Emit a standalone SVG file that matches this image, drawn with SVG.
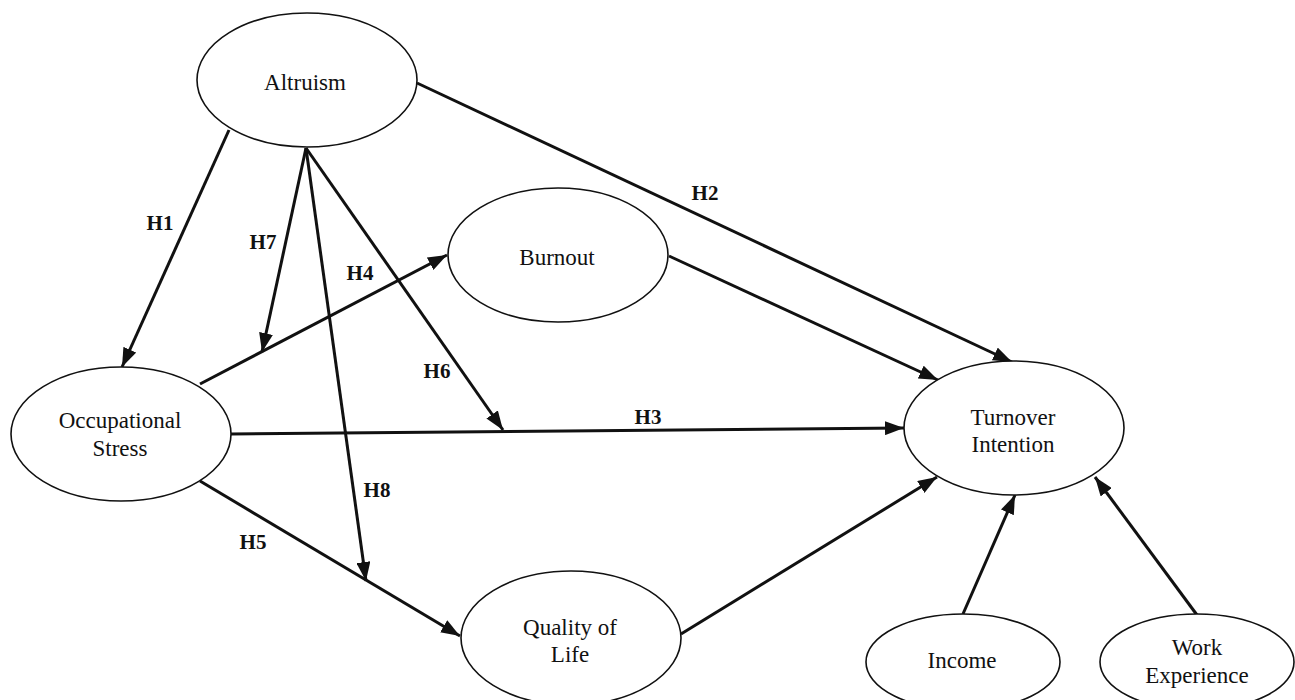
<svg xmlns="http://www.w3.org/2000/svg" width="1295" height="700" viewBox="0 0 1295 700">
<style>
.node ellipse{fill:#fff;stroke:#111;stroke-width:1.6}
.node text{font-family:"Liberation Serif",serif;font-size:23px;fill:#111;text-anchor:middle}
.lbl{font-family:"Liberation Serif",serif;font-size:21px;font-weight:bold;fill:#111;text-anchor:middle}
#connectors line{stroke:#111;stroke-width:3;marker-end:url(#ah)}
</style>
<defs>
<marker id="ah" markerUnits="userSpaceOnUse" markerWidth="20" markerHeight="14" refX="19" refY="7" orient="auto">
<path d="M0,0 L19,7 L0,14 z" fill="#111"/>
</marker>
</defs>
<rect width="1295" height="700" fill="#fff"/>
<g id="connectors">
<line x1="229" y1="130" x2="122" y2="367"/>
<line x1="417" y1="83" x2="1012" y2="362"/>
<line x1="306" y1="148" x2="262" y2="352"/>
<line x1="306" y1="148" x2="366" y2="581"/>
<line x1="306" y1="148" x2="503" y2="430"/>
<line x1="200" y1="384" x2="447" y2="255"/>
<line x1="231" y1="434" x2="904" y2="428"/>
<line x1="200" y1="481" x2="460" y2="636"/>
<line x1="669" y1="256" x2="938" y2="380"/>
<line x1="681" y1="634" x2="937" y2="477"/>
<line x1="963" y1="614" x2="1015" y2="495"/>
<line x1="1197" y1="615" x2="1095" y2="477"/>
</g>
<g id="labels">
<text class="lbl" x="160" y="230">H1</text>
<text class="lbl" x="705" y="200">H2</text>
<text class="lbl" x="648" y="424">H3</text>
<text class="lbl" x="360" y="280">H4</text>
<text class="lbl" x="253" y="549">H5</text>
<text class="lbl" x="437" y="378">H6</text>
<text class="lbl" x="263" y="249">H7</text>
<text class="lbl" x="377" y="497">H8</text>
</g>
<g id="altruism" class="node"><ellipse cx="307" cy="80" rx="110" ry="67"/><text x="305" y="90">Altruism</text></g>
<g id="burnout" class="node"><ellipse cx="558" cy="255" rx="110" ry="67"/><text x="557" y="265">Burnout</text></g>
<g id="occupational-stress" class="node"><ellipse cx="121" cy="434" rx="110" ry="67"/><text x="120" y="428">Occupational</text><text x="120" y="456">Stress</text></g>
<g id="turnover-intention" class="node"><ellipse cx="1014" cy="428" rx="110" ry="67"/><text x="1013" y="425">Turnover</text><text x="1013" y="452">Intention</text></g>
<g id="quality-of-life" class="node"><ellipse cx="571" cy="638" rx="110" ry="67"/><text x="570" y="635">Quality of</text><text x="570" y="662">Life</text></g>
<g id="income" class="node"><ellipse cx="963" cy="662" rx="97" ry="48"/><text x="962" y="668">Income</text></g>
<g id="work-experience" class="node"><ellipse cx="1197" cy="662" rx="97" ry="48"/><text x="1197" y="655">Work</text><text x="1197" y="683">Experience</text></g>
</svg>
